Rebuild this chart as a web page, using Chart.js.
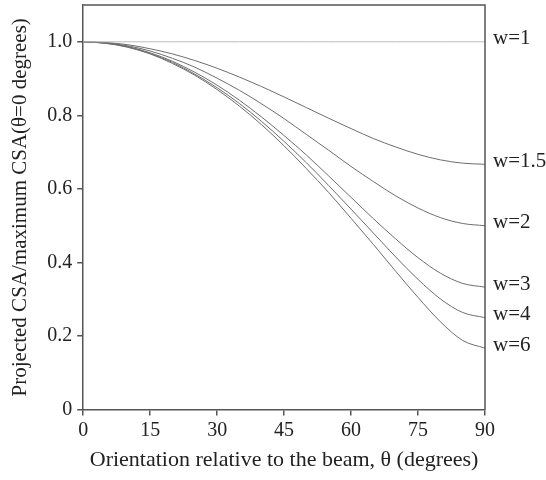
<!DOCTYPE html>
<html>
<head>
<meta charset="utf-8">
<script src="https://cdn.jsdelivr.net/npm/chart.js@4"></script>
<style>
  body { margin: 0; background: #fff; }
  #wrap { width: 546px; height: 480px; }
</style>
</head>
<body>
<div id="wrap"><canvas id="csa-chart"></canvas></div>
<script>
// orientation angle, degrees
const angles = [0, 5, 10, 15, 20, 25, 30, 35, 40, 45, 50, 55, 60, 65, 70, 75, 80, 85, 90];

// projected CSA / maximum CSA
const w1   = [1, 1, 1, 1, 1, 1, 1, 1, 1, 1, 1, 1, 1, 1, 1, 1, 1, 1, 1];
const w1_5 = [1, 0.998, 0.992, 0.981, 0.967, 0.949, 0.928, 0.904, 0.878, 0.850, 0.821, 0.792, 0.764, 0.737, 0.714, 0.694, 0.679, 0.670, 0.667];
const w2   = [1, 0.997, 0.989, 0.975, 0.955, 0.931, 0.901, 0.868, 0.831, 0.791, 0.748, 0.705, 0.661, 0.620, 0.581, 0.548, 0.522, 0.506, 0.500];
const w3   = [1, 0.997, 0.987, 0.970, 0.947, 0.917, 0.882, 0.841, 0.795, 0.745, 0.692, 0.635, 0.577, 0.519, 0.464, 0.413, 0.371, 0.343, 0.333];
const w4   = [1, 0.996, 0.986, 0.968, 0.944, 0.912, 0.875, 0.832, 0.783, 0.729, 0.671, 0.609, 0.545, 0.480, 0.415, 0.354, 0.301, 0.264, 0.250];
const w6   = [1, 0.996, 0.985, 0.967, 0.941, 0.909, 0.870, 0.825, 0.774, 0.717, 0.655, 0.590, 0.520, 0.449, 0.376, 0.305, 0.239, 0.188, 0.167];

const seriesNames = ['w=1', 'w=1.5', 'w=2', 'w=3', 'w=4', 'w=6'];
const seriesValues = [w1, w1_5, w2, w3, w4, w6];

const FONT = "'Liberation Serif', 'Times New Roman', serif";
const INK = '#222';

function points(vals) {
  return angles.map((a, i) => ({ x: a, y: vals[i] }));
}

const datasets = seriesNames.map((name, i) => ({
  label: name,
  data: points(seriesValues[i]),
  borderColor: i === 0 ? '#bdbdbd' : '#6e6e6e',
  borderWidth: 1,
  pointRadius: 0,
  fill: false,
  cubicInterpolationMode: 'monotone'
}));

// box round the plot + the w= labels at the right end of each curve
const frameAndLabels = {
  id: 'frameAndLabels',
  afterDatasetsDraw(chart) {
    const ctx = chart.ctx;
    const a = chart.chartArea;
    ctx.save();
    ctx.strokeStyle = '#555';
    ctx.lineWidth = 1.5;
    ctx.beginPath();
    ctx.moveTo(a.left, a.top);
    ctx.lineTo(a.right, a.top);
    ctx.lineTo(a.right, a.bottom);
    ctx.stroke();

    ctx.fillStyle = INK;
    ctx.font = '21px ' + FONT;
    ctx.textAlign = 'left';
    ctx.textBaseline = 'middle';
    chart.data.datasets.forEach((ds, i) => {
      const meta = chart.getDatasetMeta(i);
      const last = meta.data[meta.data.length - 1];
      ctx.fillText(ds.label, a.right + 8, last.y - 3);
    });
    ctx.restore();
  }
};

new Chart(document.getElementById('csa-chart'), {
  type: 'line',
  data: { datasets: datasets },
  options: {
    responsive: true,
    maintainAspectRatio: false,
    animation: false,
    layout: { padding: { top: 5, right: 61, left: 3, bottom: 6 } },
    plugins: {
      legend: { display: false },
      tooltip: { enabled: false }
    },
    scales: {
      x: {
        type: 'linear',
        min: 0,
        max: 90,
        grid: { drawOnChartArea: false, color: '#555', tickLength: 6, lineWidth: 1.5 },
        border: { color: '#555', width: 1.5 },
        ticks: { stepSize: 15, color: INK, font: { family: FONT, size: 20 }, padding: 3, maxRotation: 0 },
        title: {
          display: true,
          text: 'Orientation relative to the beam, θ (degrees)',
          color: INK,
          font: { family: FONT, size: 22 },
          padding: { top: 1, bottom: 1 }
        }
      },
      y: {
        min: 0,
        max: 1.1,
        grid: { drawOnChartArea: false, color: '#555', tickLength: 6, lineWidth: 1.5 },
        border: { color: '#555', width: 1.5 },
        afterBuildTicks(scale) {
          scale.ticks = scale.ticks.filter(t => t.value <= 1.0001);
        },
        afterFit(scale) {
          // top label sits well below the top of the axis, no room needed above
          scale.paddingTop = 0;
        },
        ticks: {
          stepSize: 0.2,
          color: INK,
          font: { family: FONT, size: 20 },
          padding: 5,
          callback: v => v === 0 ? '0' : v.toFixed(1)
        },
        title: {
          display: true,
          text: 'Projected CSA/maximum CSA(θ=0 degrees)',
          color: INK,
          font: { family: FONT, size: 21 },
          padding: { top: 5, bottom: 9 }
        }
      }
    }
  },
  plugins: [frameAndLabels]
});
</script>
</body>
</html>
